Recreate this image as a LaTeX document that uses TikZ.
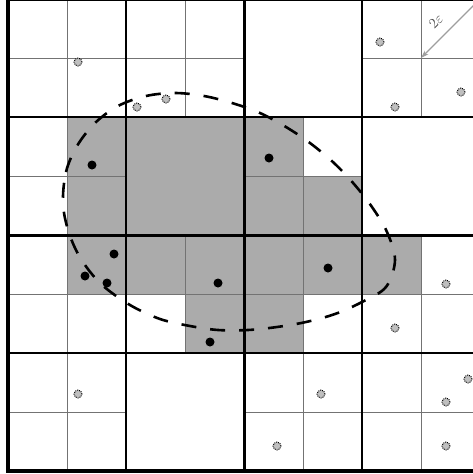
\documentclass[tikz,border=0pt]{standalone}
\usetikzlibrary{arrows.meta}
\begin{document}
\begin{tikzpicture}[x=1pt,y=-1pt,
  fine/.style={draw=black!55, line width=0.8pt},
  mid/.style={draw=black, line width=1.6pt},
  major/.style={draw=black, line width=3pt},
  outer/.style={draw=black, line width=4pt},
  cellfill/.style={fill=black!33},
  pnt/.style={circle, fill=black, inner sep=0pt, minimum size=9pt},
  opnt/.style={circle, fill=black!25, draw=black, dash pattern=on 0.9pt off 1.1pt, line width=1pt, inner sep=0pt, minimum size=8pt},
  region/.style={draw=black, line width=2.6pt, dash pattern=on 15pt off 14pt},
  epsarrow/.style={draw=black!38, line width=1.1pt, -{Stealth[length=8pt,width=5pt]}}
]
\useasboundingbox (0,0) rectangle (473,474);
\clip (0,0) rectangle (473,474);
% gray cells
\foreach \c/\r in {1/2,1/3,2/2,3/2,2/3,3/3,4/2,4/3,5/3,1/4,2/4,3/4,3/5,4/4,5/4,4/5,6/4}
  \fill[cellfill] ({8+59*\c},{-1+59*\r}) rectangle ++(59,59);
% fine subdivisions
\foreach \bx/\by in {0/0,1/0,3/0,0/1,2/1,0/2,1/2,2/2,3/2,0/3,2/3,3/3} {
  \draw[fine] ({8+118*\bx+59},{-1+118*\by}) -- ++(0,118);
  \draw[fine] ({8+118*\bx},{-1+118*\by+59}) -- ++(118,0);
}
% level-2 lines
\draw[mid] (126,-1) -- (126,471);
\draw[mid] (362,-1) -- (362,471);
\draw[mid] (8,117) -- (480,117);
\draw[mid] (8,353) -- (480,353);
% level-1 lines
\draw[major] (244,-1) -- (244,471);
\draw[major] (8,235) -- (480,235);
% outer border
\draw[outer] (8,-1) rectangle (480,471);
% dashed region
\draw[region] plot[smooth cycle, tension=0.55] coordinates {
  (63,204) (66,172) (77,146) (95,123) (118,106) (146,96) (175,93) (204,96)
  (232,103) (260,113) (286,127) (310,143) (334,163) (354,184) (372,207)
  (387,232) (395,260) (386,287) (362,302) (335,314) (306,322) (277,327)
  (248,330) (218,330) (190,326) (160,319) (130,305) (101,284) (81,259) (69,233)};
% black points
\node[pnt] (b1) at (92,165) {};
\node[pnt] (b2) at (269,158) {};
\node[pnt] (b3) at (114,254) {};
\node[pnt] (b4) at (85,276) {};
\node[pnt] (b5) at (107,283) {};
\node[pnt] (b6) at (218,283) {};
\node[pnt] (b7) at (328,268) {};
\node[pnt] (b8) at (210,342) {};
% gray dotted points
\node[opnt] (g1) at (78,62) {};
\node[opnt] (g2) at (137,107) {};
\node[opnt] (g3) at (166,99) {};
\node[opnt] (g4) at (380,42) {};
\node[opnt] (g5) at (395,107) {};
\node[opnt] (g6) at (461,92) {};
\node[opnt] (g7) at (446,284) {};
\node[opnt] (g8) at (395,328) {};
\node[opnt] (g9) at (468,379) {};
\node[opnt] (g10) at (446,402) {};
\node[opnt] (g11) at (78,394) {};
\node[opnt] (g12) at (321,394) {};
\node[opnt] (g13) at (277,446) {};
\node[opnt] (g14) at (446,446) {};
% 2 epsilon arrow
\coordinate (corner) at (480,-1);
\coordinate (tip) at (421,58);
\draw[epsarrow] (corner) -- (tip);
\node[rotate=45, text=black!70, font=\Large, inner sep=0pt] (lbl) at (436,21) {$2\varepsilon$};
\end{tikzpicture}
\end{document}
